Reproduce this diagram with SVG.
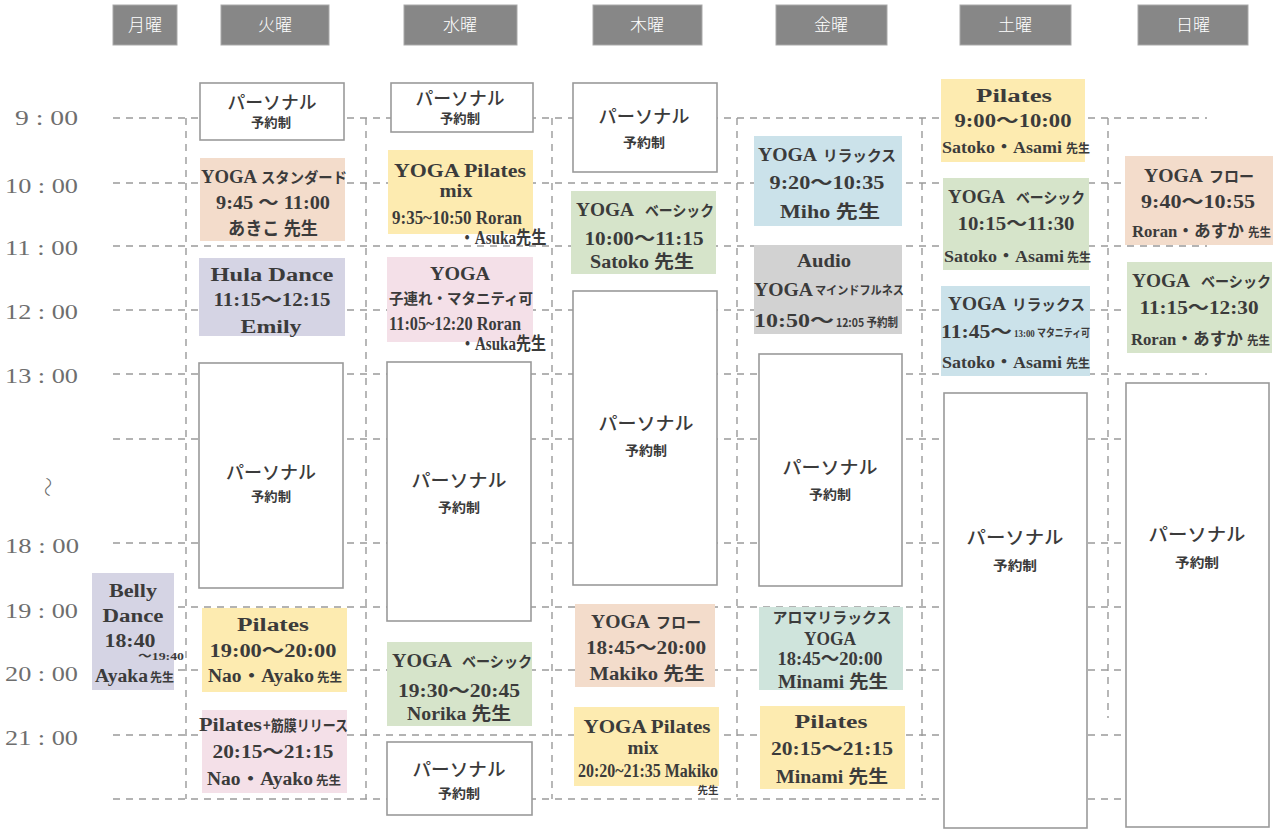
<svg xmlns="http://www.w3.org/2000/svg" width="1280" height="833" viewBox="0 0 1280 833">
<style>
text{font-family:"Liberation Serif","Noto Sans CJK JP",serif;}
.hd rect{fill:#878787;stroke:#a9a9a9;stroke-width:1}
.hd text{fill:#fff;font-size:17px;text-anchor:middle;font-family:"Noto Sans CJK JP",sans-serif;font-weight:300}
.tm{fill:#6e6e6e;font-size:22px;text-anchor:end}
.g line{stroke:#9a9a9a;stroke-width:1.4;stroke-dasharray:7 6}
.pb rect{fill:#fff;stroke:#9a9a9a;stroke-width:1.6}
.n text{fill:#3b3b3b;font-weight:bold;text-anchor:middle;font-size:18px}
.n text.a{text-anchor:start}
.n .p1{font-size:18px;font-weight:500;font-family:"Noto Sans CJK JP",sans-serif}
.n .p2{font-size:13px;font-weight:bold;font-family:"Noto Sans CJK JP",sans-serif}
.n .k{font-size:15px;font-family:"Noto Sans CJK JP",sans-serif}
.n .sm{font-size:12px;font-family:"Noto Sans CJK JP",sans-serif}
.n .xs{font-size:11px}
.n .nm{font-size:16.5px}
.peach{fill:#f3dccb}.lav{fill:#d5d4e4}.yel{fill:#fdebb0}.pink{fill:#f4e0e8}
.grn{fill:#d6e4ca}.blue{fill:#cbe2ea}.gray{fill:#d2d2d2}.mint{fill:#cfe4dc}
</style>

<g id="headers" class="hd">
<rect x="113" y="5" width="64" height="40"/><text x="145" y="31">月曜</text>
<rect x="221" y="5" width="108" height="40"/><text x="275" y="31">火曜</text>
<rect x="404" y="5" width="113" height="40"/><text x="460" y="31">水曜</text>
<rect x="593" y="5" width="109" height="40"/><text x="647" y="31">木曜</text>
<rect x="776" y="5" width="111" height="40"/><text x="831" y="31">金曜</text>
<rect x="960" y="5" width="111" height="40"/><text x="1015" y="31">土曜</text>
<rect x="1138" y="5" width="110" height="40"/><text x="1193" y="31">日曜</text>
</g>

<g id="times">
<text class="tm" x="78" y="125" textLength="63" lengthAdjust="spacingAndGlyphs">9 : 00</text>
<text class="tm" x="78" y="193" textLength="73" lengthAdjust="spacingAndGlyphs">10 : 00</text>
<text class="tm" x="78" y="255" textLength="73" lengthAdjust="spacingAndGlyphs">11 : 00</text>
<text class="tm" x="78" y="319" textLength="73" lengthAdjust="spacingAndGlyphs">12 : 00</text>
<text class="tm" x="78" y="383" textLength="73" lengthAdjust="spacingAndGlyphs">13 : 00</text>
<text x="0" y="0" transform="translate(40,487) rotate(90)" style="font-size:20px;fill:#6e6e6e;text-anchor:middle;font-family:'Noto Sans CJK JP',sans-serif;font-weight:300">〜</text>
<text class="tm" x="79" y="553" textLength="74" lengthAdjust="spacingAndGlyphs">18 : 00</text>
<text class="tm" x="78" y="618" textLength="73" lengthAdjust="spacingAndGlyphs">19 : 00</text>
<text class="tm" x="78" y="681" textLength="73" lengthAdjust="spacingAndGlyphs">20 : 00</text>
<text class="tm" x="78" y="745" textLength="73" lengthAdjust="spacingAndGlyphs">21 : 00</text>
</g>

<g id="connectors" class="g">
<line x1="113" y1="118" x2="1207" y2="118"/>
<line x1="113" y1="183" x2="1207" y2="183"/>
<line x1="113" y1="246" x2="1207" y2="246"/>
<line x1="113" y1="310" x2="1207" y2="310"/>
<line x1="113" y1="374" x2="1207" y2="374"/>
<line x1="113" y1="439" x2="1207" y2="439"/>
<line x1="113" y1="543" x2="1207" y2="543"/>
<line x1="113" y1="607" x2="1207" y2="607"/>
<line x1="113" y1="670" x2="1207" y2="670"/>
<line x1="113" y1="735" x2="1207" y2="735"/>
<line x1="113" y1="799" x2="1207" y2="799"/>
<line x1="186" y1="118" x2="186" y2="799"/>
<line x1="366" y1="118" x2="366" y2="799"/>
<line x1="552" y1="118" x2="552" y2="799"/>
<line x1="737" y1="118" x2="737" y2="797"/>
<line x1="922" y1="118" x2="922" y2="796"/>
<line x1="1108" y1="118" x2="1108" y2="718"/>
</g>

<!-- Monday -->
<g id="mon-belly" class="n">
<rect class="lav" x="92" y="573" width="82" height="117"/>
<text x="133" y="597" font-size="19" textLength="48" lengthAdjust="spacingAndGlyphs">Belly</text>
<text x="133" y="622" font-size="19" textLength="61" lengthAdjust="spacingAndGlyphs">Dance</text>
<text x="130" y="647" font-size="19" textLength="51" lengthAdjust="spacingAndGlyphs">18:40</text>
<text x="161" y="660" class="xs" textLength="46" lengthAdjust="spacingAndGlyphs">〜19:40</text>
<text class="a" x="95" y="682" textLength="53" lengthAdjust="spacingAndGlyphs">Ayaka</text>
<text class="a sm" x="150" y="682" textLength="24" lengthAdjust="spacingAndGlyphs">先生</text>
</g>

<!-- Tuesday -->
<g id="tue-personal1" class="n pb">
<rect x="200" y="83" width="144" height="57"/>
<text class="p1" x="272" y="109" textLength="89" lengthAdjust="spacingAndGlyphs">パーソナル</text>
<text class="p2" x="271" y="127" textLength="40" lengthAdjust="spacingAndGlyphs">予約制</text>
</g>
<g id="tue-yoga-standard" class="n">
<rect class="peach" x="200" y="158" width="145" height="83"/>
<text class="a" x="201" y="183" font-size="19" textLength="56" lengthAdjust="spacingAndGlyphs">YOGA</text>
<text class="a k" x="261" y="183" textLength="86" lengthAdjust="spacingAndGlyphs">スタンダード</text>
<text x="273" y="209" textLength="114" lengthAdjust="spacingAndGlyphs">9:45 〜 11:00</text>
<text x="273" y="235" textLength="90" lengthAdjust="spacingAndGlyphs">あきこ 先生</text>
</g>
<g id="tue-hula" class="n">
<rect class="lav" x="199" y="258" width="146" height="78"/>
<text x="272" y="281" font-size="20" textLength="123" lengthAdjust="spacingAndGlyphs">Hula Dance</text>
<text x="272" y="306" textLength="117" lengthAdjust="spacingAndGlyphs">11:15〜12:15</text>
<text x="271" y="333" font-size="20" textLength="61" lengthAdjust="spacingAndGlyphs">Emily</text>
</g>
<g id="tue-personal2" class="n pb">
<rect x="199" y="363" width="144" height="225"/>
<text class="p1" x="271" y="479" textLength="90" lengthAdjust="spacingAndGlyphs">パーソナル</text>
<text class="p2" x="271" y="501" textLength="40" lengthAdjust="spacingAndGlyphs">予約制</text>
</g>
<g id="tue-pilates" class="n">
<rect class="yel" x="202" y="608" width="145" height="84"/>
<text x="273" y="631" font-size="20" textLength="72" lengthAdjust="spacingAndGlyphs">Pilates</text>
<text x="273" y="657" textLength="127" lengthAdjust="spacingAndGlyphs">19:00〜20:00</text>
<text class="a" x="208" y="682" textLength="106" lengthAdjust="spacingAndGlyphs">Nao・Ayako</text>
<text class="a sm" x="317" y="682" textLength="25" lengthAdjust="spacingAndGlyphs">先生</text>
</g>
<g id="tue-pilates-fascia" class="n">
<rect class="pink" x="202" y="710" width="145" height="83"/>
<text class="a" x="199" y="731" textLength="63" lengthAdjust="spacingAndGlyphs">Pilates</text>
<text class="a k" x="263" y="731" textLength="85" lengthAdjust="spacingAndGlyphs">+筋膜リリース</text>
<text x="273" y="758" textLength="121" lengthAdjust="spacingAndGlyphs">20:15〜21:15</text>
<text class="a" x="207" y="785" textLength="106" lengthAdjust="spacingAndGlyphs">Nao・Ayako</text>
<text class="a sm" x="316" y="785" textLength="25" lengthAdjust="spacingAndGlyphs">先生</text>
</g>

<!-- Wednesday -->
<g id="wed-personal1" class="n pb">
<rect x="391" y="83" width="142" height="49"/>
<text class="p1" x="460" y="105" textLength="89" lengthAdjust="spacingAndGlyphs">パーソナル</text>
<text class="p2" x="460" y="123" textLength="40" lengthAdjust="spacingAndGlyphs">予約制</text>
</g>
<g id="wed-yoga-pilates" class="n">
<rect class="yel" x="388" y="150" width="145" height="84"/>
<text x="460" y="177" font-size="20" textLength="132" lengthAdjust="spacingAndGlyphs">YOGA Pilates</text>
<text x="456" y="197" font-size="17" textLength="33" lengthAdjust="spacingAndGlyphs">mix</text>
<text x="457" y="224" font-size="14" textLength="130" lengthAdjust="spacingAndGlyphs">9:35~10:50  Roran</text>
<text x="503" y="244" font-size="14" textLength="87" lengthAdjust="spacingAndGlyphs">・Asuka先生</text>
</g>
<g id="wed-yoga-kids" class="n">
<rect class="pink" x="387" y="257" width="146" height="85"/>
<text x="460" y="280" font-size="20" textLength="60" lengthAdjust="spacingAndGlyphs">YOGA</text>
<text x="461" y="304" class="k" textLength="144" lengthAdjust="spacingAndGlyphs">子連れ・マタニティ可</text>
<text x="455" y="330" font-size="14" textLength="132" lengthAdjust="spacingAndGlyphs">11:05~12:20  Roran</text>
<text x="503" y="350" font-size="14" textLength="86" lengthAdjust="spacingAndGlyphs">・Asuka先生</text>
</g>
<g id="wed-personal2" class="n pb">
<rect x="387" y="362" width="144" height="259"/>
<text class="p1" x="459" y="487" textLength="95" lengthAdjust="spacingAndGlyphs">パーソナル</text>
<text class="p2" x="459" y="512" textLength="42" lengthAdjust="spacingAndGlyphs">予約制</text>
</g>
<g id="wed-yoga-basic" class="n">
<rect class="grn" x="387" y="642" width="145" height="84"/>
<text class="a" x="392" y="667" textLength="60" lengthAdjust="spacingAndGlyphs">YOGA</text>
<text class="a k" x="462" y="667" textLength="70" lengthAdjust="spacingAndGlyphs">ベーシック</text>
<text x="459" y="697" textLength="122" lengthAdjust="spacingAndGlyphs">19:30〜20:45</text>
<text x="459" y="720" textLength="104" lengthAdjust="spacingAndGlyphs">Norika 先生</text>
</g>
<g id="wed-personal3" class="n pb">
<rect x="387" y="742" width="145" height="73"/>
<text class="p1" x="459" y="776" textLength="93" lengthAdjust="spacingAndGlyphs">パーソナル</text>
<text class="p2" x="459" y="798" textLength="42" lengthAdjust="spacingAndGlyphs">予約制</text>
</g>

<!-- Thursday -->
<g id="thu-personal1" class="n pb">
<rect x="573" y="83" width="144" height="89"/>
<text class="p1" x="644" y="123" textLength="91" lengthAdjust="spacingAndGlyphs">パーソナル</text>
<text class="p2" x="644" y="147" textLength="42" lengthAdjust="spacingAndGlyphs">予約制</text>
</g>
<g id="thu-yoga-basic" class="n">
<rect class="grn" x="571" y="191" width="145" height="83"/>
<text class="a" x="576" y="216" textLength="58" lengthAdjust="spacingAndGlyphs">YOGA</text>
<text class="a k" x="645" y="216" textLength="69" lengthAdjust="spacingAndGlyphs">ベーシック</text>
<text x="644" y="245" textLength="119" lengthAdjust="spacingAndGlyphs">10:00〜11:15</text>
<text x="642" y="268" textLength="104" lengthAdjust="spacingAndGlyphs">Satoko 先生</text>
</g>
<g id="thu-personal2" class="n pb">
<rect x="573" y="291" width="144" height="294"/>
<text class="p1" x="646" y="430" textLength="95" lengthAdjust="spacingAndGlyphs">パーソナル</text>
<text class="p2" x="646" y="455" textLength="42" lengthAdjust="spacingAndGlyphs">予約制</text>
</g>
<g id="thu-yoga-flow" class="n">
<rect class="peach" x="575" y="604" width="140" height="83"/>
<text class="a" x="591" y="628" textLength="59" lengthAdjust="spacingAndGlyphs">YOGA</text>
<text class="a k" x="656" y="628" textLength="45" lengthAdjust="spacingAndGlyphs">フロー</text>
<text x="646" y="654" textLength="120" lengthAdjust="spacingAndGlyphs">18:45〜20:00</text>
<text x="647" y="680" font-size="19" textLength="115" lengthAdjust="spacingAndGlyphs">Makiko 先生</text>
</g>
<g id="thu-yoga-pilates" class="n">
<rect class="yel" x="574" y="707" width="145" height="79"/>
<text x="647" y="733" font-size="20" textLength="127" lengthAdjust="spacingAndGlyphs">YOGA Pilates</text>
<text x="643" y="754" font-size="17" textLength="31" lengthAdjust="spacingAndGlyphs">mix</text>
<text x="648" y="777" font-size="16" textLength="140" lengthAdjust="spacingAndGlyphs">20:20~21:35  Makiko</text>
<text x="708" y="794" style="font-size:10px" textLength="21" lengthAdjust="spacingAndGlyphs">先生</text>
</g>

<!-- Friday -->
<g id="fri-yoga-relax" class="n">
<rect class="blue" x="754" y="136" width="148" height="90"/>
<text class="a" x="758" y="161" textLength="59" lengthAdjust="spacingAndGlyphs">YOGA</text>
<text class="a k" x="823" y="161" textLength="73" lengthAdjust="spacingAndGlyphs">リラックス</text>
<text x="827" y="189" textLength="115" lengthAdjust="spacingAndGlyphs">9:20〜10:35</text>
<text x="830" y="218" font-size="20" textLength="100" lengthAdjust="spacingAndGlyphs">Miho 先生</text>
</g>
<g id="fri-audio-yoga" class="n">
<rect class="gray" x="754" y="245" width="148" height="89"/>
<text x="824" y="267" font-size="19" textLength="54" lengthAdjust="spacingAndGlyphs">Audio</text>
<text class="a" x="754" y="296" font-size="19" textLength="59" lengthAdjust="spacingAndGlyphs">YOGA</text>
<text class="a sm" x="815" y="295" textLength="89" lengthAdjust="spacingAndGlyphs">マインドフルネス</text>
<text class="a" x="754" y="327" textLength="80" lengthAdjust="spacingAndGlyphs">10:50〜</text>
<text class="a sm" x="836" y="327" textLength="62" lengthAdjust="spacingAndGlyphs">12:05 予約制</text>
</g>
<g id="fri-personal" class="n pb">
<rect x="759" y="354" width="143" height="232"/>
<text class="p1" x="830" y="474" textLength="95" lengthAdjust="spacingAndGlyphs">パーソナル</text>
<text class="p2" x="830" y="499" textLength="42" lengthAdjust="spacingAndGlyphs">予約制</text>
</g>
<g id="fri-aroma" class="n">
<rect class="mint" x="759" y="607" width="144" height="83"/>
<text x="832" y="623" class="k" textLength="119" lengthAdjust="spacingAndGlyphs">アロマリラックス</text>
<text x="830" y="645" textLength="52" lengthAdjust="spacingAndGlyphs">YOGA</text>
<text x="830" y="665" font-size="17" textLength="105" lengthAdjust="spacingAndGlyphs">18:45〜20:00</text>
<text x="833" y="688" textLength="110" lengthAdjust="spacingAndGlyphs">Minami 先生</text>
</g>
<g id="fri-pilates" class="n">
<rect class="yel" x="760" y="706" width="145" height="83"/>
<text x="831" y="728" font-size="21" textLength="73" lengthAdjust="spacingAndGlyphs">Pilates</text>
<text x="832" y="755" textLength="122" lengthAdjust="spacingAndGlyphs">20:15〜21:15</text>
<text x="832" y="783" textLength="112" lengthAdjust="spacingAndGlyphs">Minami 先生</text>
</g>

<!-- Saturday -->
<g id="sat-pilates" class="n">
<rect class="yel" x="941" y="79" width="144" height="83"/>
<text x="1014" y="102" font-size="20" textLength="76" lengthAdjust="spacingAndGlyphs">Pilates</text>
<text x="1013" y="127" textLength="117" lengthAdjust="spacingAndGlyphs">9:00〜10:00</text>
<text class="a nm" x="942" y="153" textLength="120" lengthAdjust="spacingAndGlyphs">Satoko・Asami</text>
<text class="a sm" x="1066" y="153" textLength="24" lengthAdjust="spacingAndGlyphs">先生</text>
</g>
<g id="sat-yoga-basic" class="n">
<rect class="grn" x="943" y="178" width="146" height="92"/>
<text class="a" x="948" y="203" textLength="57" lengthAdjust="spacingAndGlyphs">YOGA</text>
<text class="a k" x="1016" y="203" textLength="69" lengthAdjust="spacingAndGlyphs">ベーシック</text>
<text x="1016" y="230" textLength="117" lengthAdjust="spacingAndGlyphs">10:15〜11:30</text>
<text class="a nm" x="944" y="262" textLength="120" lengthAdjust="spacingAndGlyphs">Satoko・Asami</text>
<text class="a sm" x="1067" y="262" textLength="24" lengthAdjust="spacingAndGlyphs">先生</text>
</g>
<g id="sat-yoga-relax" class="n">
<rect class="blue" x="941" y="286" width="149" height="90"/>
<text class="a" x="948" y="310" textLength="58" lengthAdjust="spacingAndGlyphs">YOGA</text>
<text class="a k" x="1012" y="310" textLength="73" lengthAdjust="spacingAndGlyphs">リラックス</text>
<text class="a" x="941" y="338" textLength="71" lengthAdjust="spacingAndGlyphs">11:45〜</text>
<text class="a xs" x="1014" y="337" textLength="76" lengthAdjust="spacingAndGlyphs">13:00 マタニティ可</text>
<text class="a nm" x="942" y="368" textLength="120" lengthAdjust="spacingAndGlyphs">Satoko・Asami</text>
<text class="a sm" x="1066" y="368" textLength="24" lengthAdjust="spacingAndGlyphs">先生</text>
</g>
<g id="sat-personal" class="n pb">
<rect x="944" y="393" width="143" height="435"/>
<text class="p1" x="1015" y="544" textLength="97" lengthAdjust="spacingAndGlyphs">パーソナル</text>
<text class="p2" x="1015" y="570" textLength="44" lengthAdjust="spacingAndGlyphs">予約制</text>
</g>

<!-- Sunday -->
<g id="sun-yoga-flow" class="n">
<rect class="peach" x="1125" y="156" width="148" height="89"/>
<text class="a" x="1144" y="182" textLength="59" lengthAdjust="spacingAndGlyphs">YOGA</text>
<text class="a k" x="1209" y="182" textLength="45" lengthAdjust="spacingAndGlyphs">フロー</text>
<text x="1198" y="208" textLength="114" lengthAdjust="spacingAndGlyphs">9:40〜10:55</text>
<text class="a nm" x="1132" y="237" textLength="112" lengthAdjust="spacingAndGlyphs">Roran・あすか</text>
<text class="a sm" x="1248" y="237" textLength="23" lengthAdjust="spacingAndGlyphs">先生</text>
</g>
<g id="sun-yoga-basic" class="n">
<rect class="grn" x="1127" y="262" width="145" height="91"/>
<text class="a" x="1132" y="287" textLength="58" lengthAdjust="spacingAndGlyphs">YOGA</text>
<text class="a k" x="1201" y="287" textLength="70" lengthAdjust="spacingAndGlyphs">ベーシック</text>
<text x="1199" y="314" textLength="119" lengthAdjust="spacingAndGlyphs">11:15〜12:30</text>
<text class="a nm" x="1131" y="345" textLength="112" lengthAdjust="spacingAndGlyphs">Roran・あすか</text>
<text class="a sm" x="1247" y="345" textLength="23" lengthAdjust="spacingAndGlyphs">先生</text>
</g>
<g id="sun-personal" class="n pb">
<rect x="1126" y="383" width="143" height="444"/>
<text class="p1" x="1197" y="541" textLength="97" lengthAdjust="spacingAndGlyphs">パーソナル</text>
<text class="p2" x="1197" y="567" textLength="44" lengthAdjust="spacingAndGlyphs">予約制</text>
</g>
</svg>
